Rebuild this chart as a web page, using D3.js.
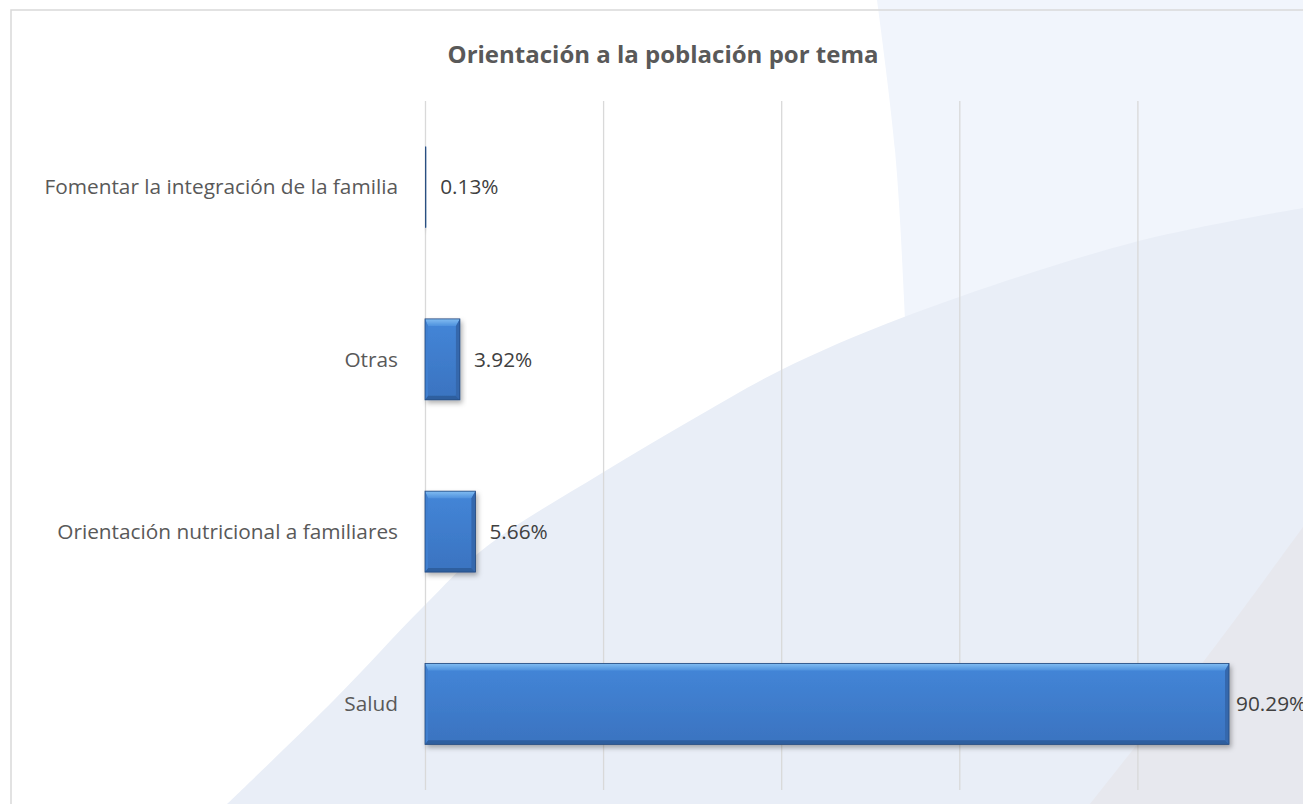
<!DOCTYPE html>
<html>
<head>
<meta charset="utf-8">
<script src="https://cdn.jsdelivr.net/npm/d3@7"></script>
<style>
	html, body { margin: 0; padding: 0; background: #fff; overflow: hidden; }
	svg { display: block; }
	text { font-family: "Open Sans", sans-serif; }
</style>
</head>
<body>
<div id="chart"></div>
<script>
	// data, bottom to top as in the picture
	let categories = ['Salud', 'Orientación nutricional a familiares', 'Otras', 'Fomentar la integración de la familia'],
			values = [0.9029, 0.0566, 0.0392, 0.0013],
			gridTicks = [0, 0.2, 0.4, 0.6, 0.8, 1],
			title = 'Orientación a la población por tema';

	let width = 1303,
			height = 804,
			grey = '#595959',
			gridGrey = '#d9d9d9',
			plot = {left: 425, right: 1315.5, top: 101, bottom: 790};

	let svg = d3.select('#chart').append('svg')
			.attr('width', width)
			.attr('height', height);

	let defs = svg.append('defs');

	let face = defs.append('linearGradient')
			.attr('id', 'face')
			.attr('x1', 0).attr('y1', 0).attr('x2', 0).attr('y2', 1);
	face.append('stop').attr('offset', '0%').attr('stop-color', '#4486d8');
	face.append('stop').attr('offset', '100%').attr('stop-color', '#3a73c0');

	let topBevel = defs.append('linearGradient')
			.attr('id', 'topBevel')
			.attr('x1', 0).attr('y1', 0).attr('x2', 0).attr('y2', 1);
	topBevel.append('stop').attr('offset', '0%').attr('stop-color', '#82bdf2');
	topBevel.append('stop').attr('offset', '100%').attr('stop-color', '#4f92de');

	let shadow = defs.append('filter')
			.attr('id', 'shadow')
			.attr('x', '-10%').attr('y', '-10%')
			.attr('width', '130%').attr('height', '140%');
	shadow.append('feDropShadow')
			.attr('dx', 2).attr('dy', 3)
			.attr('stdDeviation', 2.5)
			.attr('flood-color', '#000')
			.attr('flood-opacity', 0.3);

	// background swooshes
	let bg = svg.append('g');
	let curve = d3.line().curve(d3.curveCatmullRom);

	bg.append('rect')
			.attr('width', width).attr('height', height)
			.attr('fill', '#fff');

	bg.append('path')
			.attr('d', curve([[877, 0], [895, 150], [905, 320], [912, 500], [920, 804]]) + `L ${width} ${height} L ${width} 0 Z`)
			.attr('fill', '#f1f5fc');

	bg.append('path')
			.attr('d', curve([[227, 804], [334, 700], [423, 607], [486, 547], [602, 473], [700, 415], [781, 370], [904, 317], [1135, 242], [1303, 208]]) + `L ${width} ${height} Z`)
			.attr('fill', '#e9eef7');

	bg.append('path')
			.attr('d', curve([[1303, 527], [1207, 657], [1135, 747], [1090, 804]]) + `L ${width} ${height} Z`)
			.attr('fill', '#e7e8ee');

	// chart area border
	svg.append('path')
			.attr('d', `M 11 ${height + 5} L 11 10 L ${width + 5} 10`)
			.attr('fill', 'none')
			.attr('stroke', gridGrey)
			.attr('stroke-width', 1.5);

	let x = d3.scaleLinear()
			.domain([0, 1])
			.range([plot.left, plot.right]);

	let y = d3.scaleBand()
			.domain(categories.slice().reverse())
			.range([plot.top, plot.bottom])
			.paddingInner(0.53)
			.paddingOuter(0.265);

	// gridlines
	svg.append('g')
			.attr('transform', `translate(0, ${plot.bottom})`)
			.call(d3.axisBottom(x).tickValues(gridTicks).tickSize(-(plot.bottom - plot.top)).tickFormat(''))
			.call(g => g.select('.domain').remove())
			.call(g => g.selectAll('line').attr('stroke', gridGrey).attr('stroke-width', 1.3));

	// title
	svg.append('text')
			.text(title)
			.attr('x', 663)
			.attr('y', 63)
			.attr('text-anchor', 'middle')
			.attr('fill', grey)
			.style('font-weight', 700)
			.style('font-size', '24px');

	// category labels
	svg.append('g')
			.selectAll('text')
			.data(categories)
			.enter()
			.append('text')
			.text(d => d)
			.attr('x', plot.left - 27)
			.attr('y', d => y(d) + y.bandwidth() / 2)
			.attr('dy', '0.35em')
			.attr('text-anchor', 'end')
			.attr('fill', grey)
			.style('font-size', '20.8px');

	// bars
	let bars = svg.append('g')
			.selectAll('g')
			.data(values)
			.enter()
			.append('g')
			.attr('transform', (d, i) => `translate(${x(0)}, ${y(categories[i])})`)
			.attr('filter', 'url(#shadow)');

	let h = y.bandwidth();

	bars.append('rect')
			.attr('width', d => x(d) - x(0))
			.attr('height', h)
			.attr('fill', 'url(#face)');

	bars.each(function(d) {
		let w = x(d) - x(0);
		let g = d3.select(this);
		if (w < 4) {
			g.append('rect')
					.attr('width', Math.max(w, 1.2))
					.attr('height', h)
					.attr('fill', '#2b4f80');
			return;
		}
		let bt = Math.min(7, w / 2), bb = Math.min(4, w / 2), br = Math.min(4, w / 2), bl = Math.min(3, w / 2);
		let poly = pts => pts.map(p => p.join(',')).join(' ');
		g.append('polygon')
				.attr('points', poly([[0, 0], [w, 0], [w - br, bt], [bl, bt]]))
				.attr('fill', 'url(#topBevel)');
		g.append('polygon')
				.attr('points', poly([[0, h], [w, h], [w - br, h - bb], [bl, h - bb]]))
				.attr('fill', '#2f5f9f');
		g.append('polygon')
				.attr('points', poly([[w, 0], [w, h], [w - br, h - bb], [w - br, bt]]))
				.attr('fill', '#3467ad');
		g.append('polygon')
				.attr('points', poly([[0, 0], [0, h], [bl, h - bb], [bl, bt]]))
				.attr('fill', '#3f7fcf');
		g.append('rect')
				.attr('width', w)
				.attr('height', h)
				.attr('fill', 'none')
				.attr('stroke', '#24487c')
				.attr('stroke-width', 0.8);
	});

	// value labels
	svg.append('g')
			.selectAll('text')
			.data(values)
			.enter()
			.append('text')
			.text(d => d3.format('.2%')(d))
			.attr('x', d => x(d) + (x(d) + 75 > width ? 7 : 14))
			.attr('y', (d, i) => y(categories[i]) + h / 2)
			.attr('dy', '0.35em')
			.attr('fill', '#404040')
			.style('font-size', '20.8px');
</script>
</body>
</html>
